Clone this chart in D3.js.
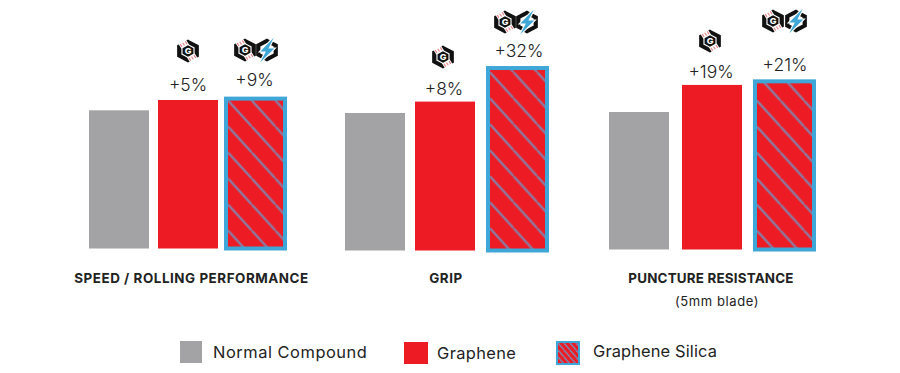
<!DOCTYPE html>
<html><head><meta charset="utf-8">
<script src="https://cdn.jsdelivr.net/npm/d3@7/dist/d3.min.js"></script>
<style>
html,body{margin:0;padding:0;background:#fff}
svg{display:block}
text{font-family:Inter,"Open Sans",sans-serif;fill:#222}
</style></head><body>
<svg id="c" width="900" height="373"></svg>
<script>
const categories=["SPEED / ROLLING PERFORMANCE","GRIP","PUNCTURE RESISTANCE"];
const seriesNames=["Normal Compound","Graphene","Graphene Silica"];
const normalValues=[100.5,100,100];
const grapheneValues=[108,108.3,119.7];
const silicaValues=[109,132.7,122.3];
const grapheneLabels=["+5%","+8%","+19%"];
const silicaLabels=["+9%","+32%","+21%"];
const subLabels=["","","(5mm blade)"];

const W=900,H=373,svg=d3.select("#c");
const colors=["#a3a3a6","#ed1c24","#ed1c24"];
const blue="#3fa6d8",hatch="#8a7ba3";

// per-group frame
const groupX=d3.scaleOrdinal().domain(categories).range([89,345,609]);
const groupBase=d3.scaleOrdinal().domain(categories).range([248.5,250.5,249.5]);
const barOffset=[[0,69,137],[0,70,143],[0,73,146]];
const barW=[60,60,59];
const y=d3.scaleLinear().domain([0,100]).range([0,137.5]);

const defs=svg.append("defs");
function hatchPattern(id,px,py,w,h,sw){
  const p=defs.append("pattern").attr("id",id).attr("patternUnits","userSpaceOnUse")
    .attr("x",px).attr("y",py).attr("width",w).attr("height",h);
  p.append("rect").attr("width",w).attr("height",h).attr("fill","#ed1c24");
  [-1,0,1].forEach(k=>p.append("line").attr("x1",k*w).attr("y1",0).attr("x2",(k+1)*w).attr("y2",h)
    .attr("stroke",hatch).attr("stroke-width",sw));
}
const hatchAnchor=[[228.3,126.7],[490,98.3],[757,126.7]];
categories.forEach((c,i)=>hatchPattern("h"+i,hatchAnchor[i][0]-groupX(c),hatchAnchor[i][1]-groupBase(c),23.64,26,2.3));
hatchPattern("hLegend",0,0,6,7,1.5);

const rows=categories.map((c,i)=>({c,i,vals:[normalValues[i],grapheneValues[i],silicaValues[i]]}));
const g=svg.selectAll("g.group").data(rows).join("g").attr("class","group")
  .attr("transform",d=>`translate(${groupX(d.c)},${groupBase(d.c)})`);
g.selectAll("rect.bar").data(d=>d.vals.map((v,k)=>({v,k,i:d.i}))).join("rect").attr("class","bar")
  .attr("x",d=>barOffset[d.i][d.k]).attr("width",d=>barW[d.k])
  .attr("y",d=>-y(d.v)).attr("height",d=>y(d.v))
  .attr("fill",d=>d.k===2?`url(#h${d.i})`:colors[d.k])
  .attr("stroke",d=>d.k===2?blue:"none").attr("stroke-width",d=>d.k===2?4:0);

// category labels
const catCx=[191.5,446,711];
const catSpacing=[0.55,0.55,0.2];
svg.selectAll("text.cat").data(categories).join("text").attr("class","cat")
  .attr("x",(d,i)=>catCx[i]).attr("y",283).attr("text-anchor","middle")
  .attr("font-size",13.4).attr("font-weight",700).attr("letter-spacing",(d,i)=>catSpacing[i]).text(d=>d);
svg.selectAll("text.sub").data(subLabels).join("text").attr("class","sub")
  .attr("x",717).attr("y",306).attr("text-anchor","middle")
  .attr("font-size",13).attr("letter-spacing",0.6).attr("fill","#333").text(d=>d);

// value labels
const labelPos=[[188,91,254.5,86],[444,95,519,57],[711,78,785,71]];
function valueLabel(t,x,yy){svg.append("text").attr("x",x).attr("y",yy).attr("text-anchor","middle")
  .attr("font-size",17.5).attr("font-weight",300).text(t);}
categories.forEach((c,i)=>{
  valueLabel(grapheneLabels[i],labelPos[i][0],labelPos[i][1]);
  valueLabel(silicaLabels[i],labelPos[i][2],labelPos[i][3]);
});

// badges
const hexPts=r=>d3.range(6).map(k=>{const a=Math.PI/3*k-Math.PI/2;return [r*Math.cos(a),r*Math.sin(a)];});
const hexPath=r=>d3.line()(hexPts(r))+"Z";
function grapheneIcon(cx,cy){
  const n=svg.append("g").attr("transform",`translate(${cx},${cy}) scale(1.12,1.02)`);
  n.append("path").attr("d",hexPath(9)).attr("fill","none").attr("stroke","#111").attr("stroke-width",3.8);
  [-120,60].forEach(a=>{
    const t=n.append("g").attr("transform",`rotate(${a}) translate(7.8,0)`);
    t.append("rect").attr("x",-3).attr("y",-4).attr("width",6).attr("height",8).attr("fill","#fff");
    [-2.6,0,2.6].forEach(s=>t.append("line").attr("x1",-1.6).attr("x2",1.6).attr("y1",s).attr("y2",s)
      .attr("stroke","#e8888d").attr("stroke-width",1.1));
  });
  n.append("path").attr("d",hexPath(5.6)).attr("fill","#111");
  n.append("text").attr("x",0).attr("y",3).attr("text-anchor","middle").attr("font-size",8)
    .attr("font-weight",800).style("fill","#fff").text("G");
}
function silicaIcon(cx,cy){
  const n=svg.append("g").attr("transform",`translate(${cx},${cy}) scale(1.12,1.02)`);
  n.append("path").attr("d",hexPath(9)).attr("fill","none").attr("stroke","#111").attr("stroke-width",3.8);
  const bolt=[[6,-12],[-6,1.5],[-1,1.5],[-6,12],[6.5,-1.5],[1.2,-1.5]];
  n.append("path").attr("d",d3.line()(bolt)+"Z").attr("fill",blue).attr("stroke","#fff").attr("stroke-width",2).attr("paint-order","stroke");
}
[[188,51],[443,57],[710,41]].forEach(p=>grapheneIcon(p[0],p[1]));
[[245,50,267],[505,22,527],[773,21,796]].forEach(p=>{grapheneIcon(p[0],p[1]);silicaIcon(p[2],p[1]);});

// legend
const legendBox=[[180,341,22,22],[404,342,24,22],[557,342,22,22]];
const legendText=[[213,358],[437,359],[593,357]];
const legendSpacing=[0.55,0.4,0.15];
seriesNames.forEach((s,i)=>{
  const b=legendBox[i];
  svg.append("rect").attr("x",b[0]).attr("y",b[1]).attr("width",b[2]).attr("height",b[3])
    .attr("fill",i===2?"url(#hLegend)":colors[i])
    .attr("stroke",i===2?blue:"none").attr("stroke-width",i===2?2:0);
  svg.append("text").attr("x",legendText[i][0]).attr("y",legendText[i][1])
    .attr("font-size",16.4).attr("letter-spacing",legendSpacing[i]).attr("font-weight",400).attr("fill","#333").text(s);
});
</script></body></html>
